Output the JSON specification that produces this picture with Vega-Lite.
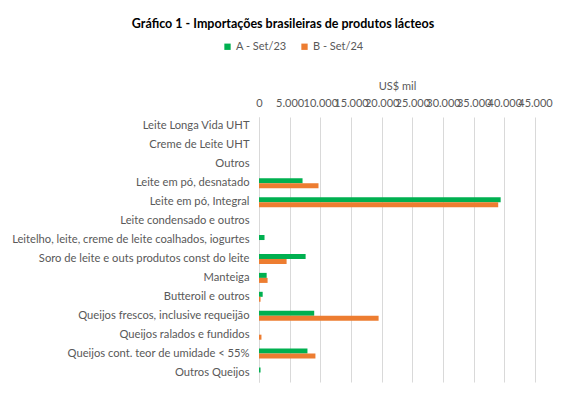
{
  "$schema": "https://vega.github.io/schema/vega-lite/v6.json",
  "width": 276,
  "height": 265,
  "autosize": {"type": "none"},
  "padding": {"left": 259, "top": 117, "right": 32, "bottom": 15},
  "background": "white",
  "title": {
    "text": "Gráfico  1 - Importações brasileiras  de produtos lácteos",
    "anchor": "middle",
    "frame": "group",
    "dx": -114,
    "dy": -3,
    "fontSize": 12.5,
    "font": "Lato",
    "fontWeight": "bold",
    "color": "#000000",
    "offset": 8
  },
  "config": {
    "locale": {"number": {"decimal": ",", "thousands": ".", "grouping": [3], "currency": ["R$", ""]}},
    "view": {"stroke": null},
    "font": "Lato"
  },
  "data": {
    "values": [
      {"produto": "Leite em pó, desnatado", "serie": "A - Set/23", "valor": 7100},
      {"produto": "Leite em pó, desnatado", "serie": "B - Set/24", "valor": 9700},
      {"produto": "Leite em pó, Integral", "serie": "A - Set/23", "valor": 39400},
      {"produto": "Leite em pó, Integral", "serie": "B - Set/24", "valor": 39000},
      {"produto": "Leitelho, leite, creme de leite coalhados, iogurtes", "serie": "A - Set/23", "valor": 900},
      {"produto": "Soro de leite e outs produtos const do leite", "serie": "A - Set/23", "valor": 7600},
      {"produto": "Soro de leite e outs produtos const do leite", "serie": "B - Set/24", "valor": 4500},
      {"produto": "Manteiga", "serie": "A - Set/23", "valor": 1250},
      {"produto": "Manteiga", "serie": "B - Set/24", "valor": 1400},
      {"produto": "Butteroil e outros", "serie": "A - Set/23", "valor": 600},
      {"produto": "Butteroil e outros", "serie": "B - Set/24", "valor": 250},
      {"produto": "Queijos frescos, inclusive requeijão", "serie": "A - Set/23", "valor": 9000},
      {"produto": "Queijos frescos, inclusive requeijão", "serie": "B - Set/24", "valor": 19500},
      {"produto": "Queijos ralados e fundidos", "serie": "B - Set/24", "valor": 400},
      {"produto": "Queijos cont. teor de umidade < 55%", "serie": "A - Set/23", "valor": 7900},
      {"produto": "Queijos cont. teor de umidade < 55%", "serie": "B - Set/24", "valor": 9200},
      {"produto": "Outros Queijos", "serie": "A - Set/23", "valor": 250}
    ]
  },
  "mark": {"type": "bar"},
  "encoding": {
    "y": {
      "field": "produto",
      "type": "nominal",
      "scale": {
        "domain": [
          "Leite Longa Vida UHT",
          "Creme de Leite UHT",
          "Outros",
          "Leite em pó, desnatado",
          "Leite em pó, Integral",
          "Leite condensado e outros",
          "Leitelho, leite, creme de leite coalhados, iogurtes",
          "Soro de leite e outs produtos const do leite",
          "Manteiga",
          "Butteroil e outros",
          "Queijos frescos, inclusive requeijão",
          "Queijos ralados e fundidos",
          "Queijos cont. teor de umidade < 55%",
          "Outros Queijos"
        ],
        "paddingInner": 0.47,
        "paddingOuter": 0.235
      },
      "axis": {
        "title": null,
        "ticks": false,
        "domain": true,
        "domainColor": "#D9D9D9",
        "labelPadding": 10,
        "labelFontSize": 11.2,
        "labelColor": "#595959",
        "labelLimit": 300
      }
    },
    "yOffset": {
      "field": "serie",
      "type": "nominal",
      "scale": {"paddingInner": 0, "paddingOuter": 0}
    },
    "x": {
      "field": "valor",
      "type": "quantitative",
      "scale": {"domain": [0, 45000], "nice": false},
      "axis": {
        "orient": "top",
        "title": "US$ mil",
        "titleFontSize": 11,
        "titleFontWeight": "normal",
        "titleColor": "#595959",
        "titlePadding": 6,
        "values": [0, 5000, 10000, 15000, 20000, 25000, 30000, 35000, 40000, 45000],
        "format": ",d",
        "labelOverlap": false,
        "labelFlush": false,
        "labelBound": false,
        "labelFontSize": 11,
        "labelColor": "#595959",
        "labelPadding": 9,
        "ticks": false,
        "domain": false,
        "grid": true,
        "gridColor": "#D9D9D9",
        "gridWidth": 1
      }
    },
    "color": {
      "field": "serie",
      "type": "nominal",
      "scale": {"domain": ["A - Set/23", "B - Set/24"], "range": ["#00B050", "#ED7D31"]},
      "legend": {
        "title": null,
        "orient": "none",
        "direction": "horizontal",
        "legendX": -37,
        "legendY": -76,
        "symbolType": "square",
        "symbolSize": 40,
        "symbolStrokeWidth": 0,
        "labelFontSize": 11,
        "labelColor": "#595959",
        "columnPadding": 12,
        "labelOffset": 3
      }
    }
  }
}
